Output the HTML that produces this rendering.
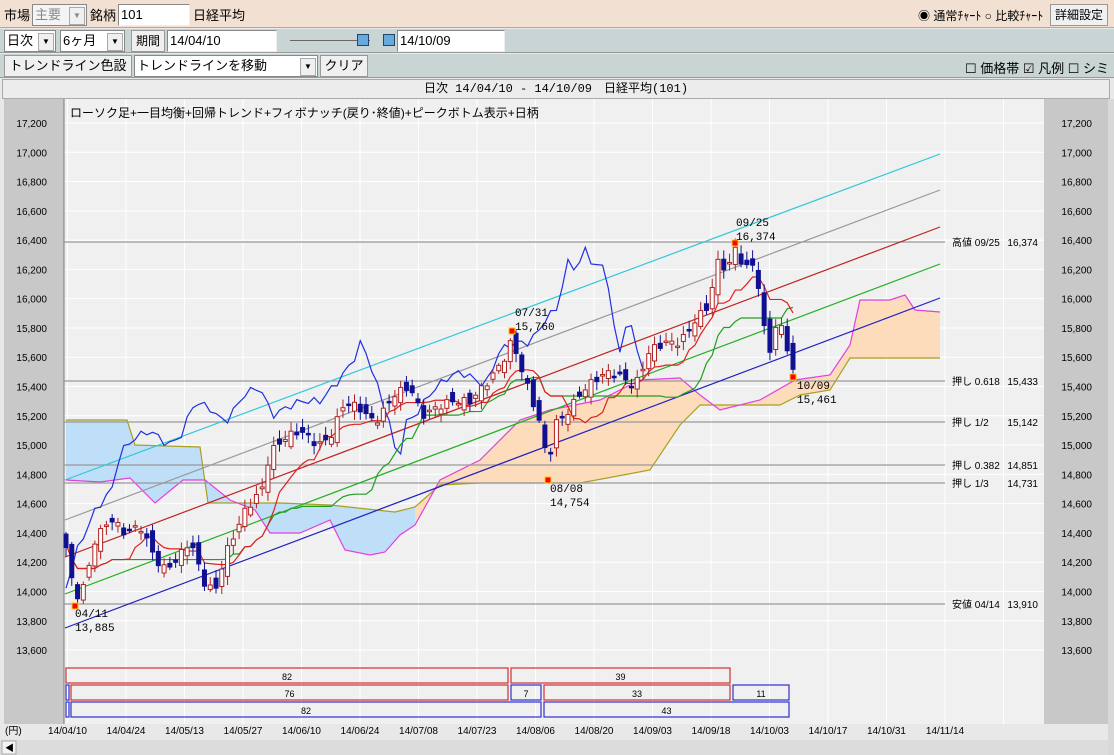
<!DOCTYPE html>
<html><head><meta charset="utf-8">
<style>
body{margin:0;width:1114px;height:755px;overflow:hidden;background:#e8e8e8;font-family:"Liberation Sans","Noto Sans CJK JP",sans-serif;font-size:12px;position:relative}
.a{position:absolute;box-sizing:border-box}
.inp{background:#fff;border:1px solid #888;border-right-color:#eee;border-bottom-color:#eee;padding-left:2px;line-height:20px;font-size:13px}
.btn{background:#f0f0f0;border:1px solid #999;text-align:center;font-size:12px;line-height:20px}
.dd{background:#fff;border:1px solid #888;font-size:13px;line-height:20px;padding-left:2px}
.dd i{position:absolute;right:1px;top:2px;width:14px;height:16px;background:#f0f0f0;border:1px solid #aaa;font-style:normal;font-size:8px;line-height:16px;text-align:center}
</style></head><body>
<div class="a" style="left:0;top:0;width:1114px;height:28px;background:#f2e1d2;border-bottom:1px solid #aaa"></div>
<div class="a" style="left:4px;top:5px;font-size:13px">市場</div>
<div class="a dd" style="left:32px;top:4px;width:55px;height:22px;color:#888;background:#f4f4f4">主要<i>▼</i></div>
<div class="a" style="left:90px;top:5px;font-size:13px">銘柄</div>
<div class="a inp" style="left:118px;top:4px;width:72px;height:22px">101</div>
<div class="a" style="left:193px;top:5px;font-size:13px">日経平均</div>
<div class="a" style="left:918px;top:7px;font-size:12px">◉ 通常ﾁｬｰﾄ ○ 比較ﾁｬｰﾄ</div>
<div class="a btn" style="left:1050px;top:4px;width:58px;height:22px">詳細設定</div>
<div class="a" style="left:0;top:29px;width:1114px;height:24px;background:#c9d5d4;border-bottom:1px solid #999"></div>
<div class="a dd" style="left:4px;top:30px;width:52px;height:22px">日次<i>▼</i></div>
<div class="a dd" style="left:60px;top:30px;width:65px;height:22px">6ヶ月<i>▼</i></div>
<div class="a btn" style="left:131px;top:30px;width:34px;height:22px">期間</div>
<div class="a inp" style="left:167px;top:30px;width:110px;height:22px">14/04/10</div>
<div class="a" style="left:290px;top:40px;width:80px;height:1px;background:#666"></div>
<div class="a" style="left:357px;top:34px;width:12px;height:12px;background:#6ad;border:1px solid #246"></div>
<div class="a" style="left:383px;top:34px;width:12px;height:12px;background:#6ad;border:1px solid #246"></div>
<div class="a inp" style="left:397px;top:30px;width:108px;height:22px">14/10/09</div>
<div class="a" style="left:0;top:54px;width:1114px;height:24px;background:#c9d5d4;border-bottom:1px solid #999"></div>
<div class="a btn" style="left:4px;top:55px;width:128px;height:22px;font-size:13px">トレンドライン色設定</div>
<div class="a dd" style="left:134px;top:55px;width:184px;height:22px">トレンドラインを移動<i>▼</i></div>
<div class="a btn" style="left:320px;top:55px;width:48px;height:22px;font-size:13px">クリア</div>
<div class="a" style="left:965px;top:58px;font-size:13px">☐ 価格帯 ☑ 凡例 ☐ シミュ</div>
<div class="a" style="left:2px;top:79px;width:1108px;height:20px;background:#ececec;border:1px solid #aaa;text-align:center;font-size:12px;line-height:18px;font-family:'Liberation Mono','Noto Sans CJK JP',monospace">日次 14/04/10 - 14/10/09　日経平均(101)</div>
<svg class="a" style="left:0;top:99px" width="1114" height="656" viewBox="0 99 1114 656" id="s" font-family="Liberation Sans, Noto Sans CJK JP, sans-serif">
<rect x="0" y="99" width="1114" height="656" fill="#e8e8e8"/>
<rect x="4" y="99" width="60" height="625" fill="#c8c8c8"/>
<rect x="1044" y="99" width="64" height="625" fill="#c8c8c8"/>
<rect x="64" y="99" width="980" height="625" fill="#f0f0f0"/>
<rect x="1108" y="99" width="6" height="656" fill="#d8d8d8"/>
<rect x="0" y="740" width="1108" height="15" fill="#dcdcdc"/>
<rect x="2" y="741" width="14" height="13" fill="#f4f4f4" stroke="#aaa"/>
<text x="5" y="751" font-size="9">◀</text>
<g id="g"></g>
</svg>
<script>
var NS="http://www.w3.org/2000/svg",g=document.getElementById('g');
function el(t,a,txt){var e=document.createElementNS(NS,t);for(var k in a)e.setAttribute(k,a[k]);if(txt!=null)e.textContent=txt;g.appendChild(e);return e;}
function Y(v){return 123+(17200-v)*0.1464;}
for(var v=13600;v<=17200;v+=200){var y=Y(v);el('line',{x1:64,x2:1044,y1:y,y2:y,stroke:'#fff','stroke-width':1});
var s=(v/1000|0)+','+String(v%1000).padStart(3,'0');
el('text',{x:47,y:y+4,'font-size':10,'text-anchor':'end'},s);el('text',{x:1092,y:y+4,'font-size':10,'text-anchor':'end'},s);}
for(var x=67.5;x<1044;x+=58.5)el('line',{x1:x,x2:x,y1:99,y2:724,stroke:'#fff'});
el('line',{x1:64,x2:64,y1:99,y2:724,stroke:'#777'});
var A=[[66,480],[100,482],[130,478],[155,503],[183,480],[205,480],[230,500],[255,510],[270,533],[300,533],[330,520],[345,550],[370,555],[385,552],[400,535],[415,525],[440,480],[480,460],[520,420],[550,410],[600,400],[640,380],[680,378],[700,395],[720,410],[760,400],[795,380],[830,375],[850,345],[860,300],[890,300],[905,295],[915,310],[940,312]];
var B=[[66,420],[127,420],[135,445],[200,447],[208,503],[280,503],[330,505],[395,512],[415,507],[440,485],[480,483],[580,483],[650,470],[680,425],[700,405],[740,405],[780,405],[800,395],[830,390],[850,358],[940,358]];
function pts(a){return a.map(function(p){return p[0]+','+p[1]}).join(' ');}
var poly=pts(A)+' '+pts(B.slice().reverse());
var cl=document.createElementNS(NS,'clipPath');cl.id='c1';var r=document.createElementNS(NS,'rect');r.setAttribute('x',60);r.setAttribute('y',99);r.setAttribute('width',355);r.setAttribute('height',620);cl.appendChild(r);g.appendChild(cl);
var c2=document.createElementNS(NS,'clipPath');c2.id='c2';var r2=document.createElementNS(NS,'rect');r2.setAttribute('x',415);r2.setAttribute('y',99);r2.setAttribute('width',600);r2.setAttribute('height',620);c2.appendChild(r2);g.appendChild(c2);
el('polygon',{points:poly,fill:'#bfdef8','clip-path':'url(#c1)'});
el('polygon',{points:poly,fill:'#fddcbc','clip-path':'url(#c2)'});
el('polyline',{points:pts(B),fill:'none',stroke:'#a8a020','stroke-width':1.2});
el('polyline',{points:pts(A),fill:'none',stroke:'#e040e0','stroke-width':1.2});
[[242,'高値 09/25','16,374'],[381,'押し 0.618','15,433'],[422,'押し 1/2','15,142'],[465,'押し 0.382','14,851'],[483,'押し 1/3','14,731'],[604,'安値 04/14','13,910']].forEach(function(h){
el('line',{x1:64,x2:945,y1:h[0],y2:h[0],stroke:'#999','stroke-width':1.2});
el('text',{x:952,y:h[0]+4,'font-size':10,'xml:space':'preserve'},h[1]);
el('text',{x:1038,y:h[0]+4,'font-size':10,'text-anchor':'end'},h[2]);});
[['#30c8d8',480,154],['#999',520,190],['#c02020',557,227],['#20b020',594,264],['#2020c0',628,298]].forEach(function(l){el('line',{x1:65,y1:l[1],x2:940,y2:l[2],stroke:l[0],'stroke-width':1.2});});
var kp=[[66,14300],[75,13950],[85,14050],[95,14350],[110,14500],[125,14400],[140,14450],[150,14300],[162,14150],[175,14200],[190,14350],[205,14050],[215,14000],[225,14250],[245,14550],[262,14700],[270,14950],[285,15050],[300,15100],[318,15000],[330,15050],[345,15300],[360,15250],[375,15150],[395,15350],[410,15400],[422,15200],[435,15250],[450,15300],[470,15300],[490,15450],[505,15600],[512,15720],[520,15550],[530,15350],[540,15150],[548,14850],[555,15150],[565,15200],[580,15350],[595,15450],[610,15500],[625,15450],[635,15400],[650,15650],[665,15700],[680,15700],[695,15850],[708,15950],[718,16250],[728,16200],[735,16350],[745,16200],[755,16250],[762,15900],[768,15600],[775,15800],[782,15800],[788,15650],[793,15500]];
function interp(x){for(var i=1;i<kp.length;i++){if(x<=kp[i][0]){var a=kp[i-1],b=kp[i];return a[1]+(b[1]-a[1])*(x-a[0])/(b[0]-a[0]);}}return kp[kp.length-1][1];}
var N=127,dx=(793-66)/(N-1),D=[],prev=14350;
for(var i=0;i<N;i++){var x=66+i*dx,c=interp(x)+Math.sin(i*2.3)*25;var o=prev+Math.sin(i*1.7+1)*50;
var h=Math.max(o,c)+15+Math.abs(Math.sin(i*3.1))*45,l=Math.min(o,c)-15-Math.abs(Math.cos(i*2.7))*45;D.push({x:x,o:o,c:c,h:h,l:l});prev=c;}
function mid(i,n){var hi=-1e9,lo=1e9;for(var j=Math.max(0,i-n+1);j<=i;j++){hi=Math.max(hi,D[j].h);lo=Math.min(lo,D[j].l);}return (hi+lo)/2;}
var t=[],k=[],ch=[];
for(var i=0;i<N;i++){t.push(D[i].x+','+Y(mid(i,9)));k.push(D[i].x+','+Y(mid(i,26)));if(i>=26)ch.push(D[i-26].x+','+Y(D[i].c));}
el('polyline',{points:ch.join(' '),fill:'none',stroke:'#2030e0','stroke-width':1.2});
el('polyline',{points:k.join(' '),fill:'none',stroke:'#20a020','stroke-width':1.2});
el('polyline',{points:t.join(' '),fill:'none',stroke:'#e02020','stroke-width':1.2});
D.forEach(function(d){var up=d.c>=d.o,col=up?'#b02020':'#101090';
el('line',{x1:d.x,x2:d.x,y1:Y(d.h),y2:Y(d.l),stroke:col});
var y1=Y(Math.max(d.o,d.c)),hh=Math.max(1.5,Y(Math.min(d.o,d.c))-y1);
el('rect',{x:d.x-2,y:y1,width:4,height:hh,fill:up?'#fff':'#101090',stroke:col});});
[[75,606,'04/11','13,885',75,617],[512,331,'07/31','15,760',515,316],[548,480,'08/08','14,754',550,492],[735,243,'09/25','16,374',736,226],[793,377,'10/09','15,461',797,389]].forEach(function(p){
el('rect',{x:p[0]-3,y:p[1]-3,width:6,height:6,fill:'#f00',stroke:'#fc0'});
el('text',{x:p[4],y:p[5],'font-size':11,'font-family':'Liberation Mono, monospace'},p[2]);
el('text',{x:p[4],y:p[5]+14,'font-size':11,'font-family':'Liberation Mono, monospace'},p[3]);});
el('text',{x:70,y:117,'font-size':12},'ローソク足+一目均衡+回帰トレンド+フィボナッチ(戻り･終値)+ピークボトム表示+日柄');
[[66,668,442,'#d03030','82'],[511,668,219,'#d03030','39'],
[66,685,3,'#3030d0',''],[71,685,437,'#d03030','76'],[511,685,30,'#3030d0','7'],[544,685,186,'#d03030','33'],[733,685,56,'#3030d0','11'],
[66,702,3,'#3030d0',''],[71,702,470,'#3030d0','82'],[544,702,245,'#3030d0','43']].forEach(function(b){
el('rect',{x:b[0],y:b[1],width:b[2],height:15,fill:'none',stroke:b[3],'stroke-width':1.2});
if(b[4])el('text',{x:b[0]+b[2]/2,y:b[1]+12,'font-size':9,'text-anchor':'middle'},b[4]);});
el('text',{x:5,y:734,'font-size':10},'(円)');
['14/04/10','14/04/24','14/05/13','14/05/27','14/06/10','14/06/24','14/07/08','14/07/23','14/08/06','14/08/20','14/09/03','14/09/18','14/10/03','14/10/17','14/10/31','14/11/14'].forEach(function(s,i){
el('text',{x:67.5+i*58.5,y:734,'font-size':10,'text-anchor':'middle'},s);});
</script>
</body></html>
